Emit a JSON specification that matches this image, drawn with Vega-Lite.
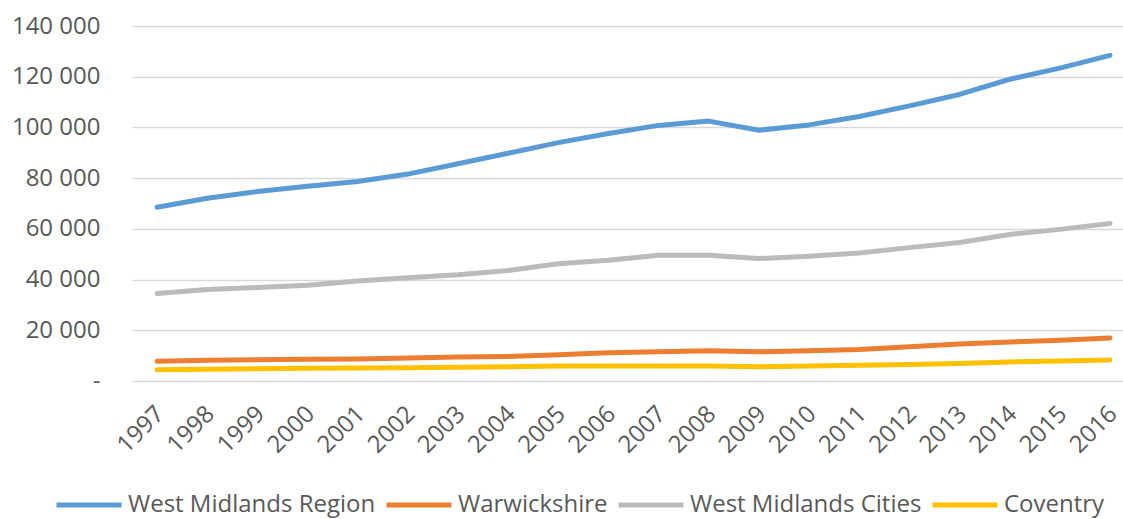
{
  "$schema": "https://vega.github.io/schema/vega-lite/v6.json",
  "autosize": {"type": "none"},
  "width": 991,
  "height": 355,
  "padding": {"left": 132, "top": 26, "right": 0, "bottom": 138},
  "background": "white",
  "config": {
    "font": "Open Sans",
    "view": {"stroke": null},
    "axis": {"labelColor": "#595959", "labelFontSize": 24, "labelFont": "Open Sans"},
    "legend": {"labelColor": "#595959", "labelFontSize": 24, "labelFont": "Open Sans", "labelLimit": 500}
  },
  "data": {
    "values": [
      {"year": 1997, "series": "West Midlands Region", "value": 68500},
      {"year": 1998, "series": "West Midlands Region", "value": 72100},
      {"year": 1999, "series": "West Midlands Region", "value": 74700},
      {"year": 2000, "series": "West Midlands Region", "value": 76800},
      {"year": 2001, "series": "West Midlands Region", "value": 78700},
      {"year": 2002, "series": "West Midlands Region", "value": 81600},
      {"year": 2003, "series": "West Midlands Region", "value": 85700},
      {"year": 2004, "series": "West Midlands Region", "value": 89800},
      {"year": 2005, "series": "West Midlands Region", "value": 94000},
      {"year": 2006, "series": "West Midlands Region", "value": 97600},
      {"year": 2007, "series": "West Midlands Region", "value": 100800},
      {"year": 2008, "series": "West Midlands Region", "value": 102500},
      {"year": 2009, "series": "West Midlands Region", "value": 98900},
      {"year": 2010, "series": "West Midlands Region", "value": 101000},
      {"year": 2011, "series": "West Midlands Region", "value": 104300},
      {"year": 2012, "series": "West Midlands Region", "value": 108500},
      {"year": 2013, "series": "West Midlands Region", "value": 113000},
      {"year": 2014, "series": "West Midlands Region", "value": 119000},
      {"year": 2015, "series": "West Midlands Region", "value": 123400},
      {"year": 2016, "series": "West Midlands Region", "value": 128400},
      {"year": 1997, "series": "Warwickshire", "value": 7750},
      {"year": 1998, "series": "Warwickshire", "value": 8150},
      {"year": 1999, "series": "Warwickshire", "value": 8400},
      {"year": 2000, "series": "Warwickshire", "value": 8550},
      {"year": 2001, "series": "Warwickshire", "value": 8700},
      {"year": 2002, "series": "Warwickshire", "value": 9100},
      {"year": 2003, "series": "Warwickshire", "value": 9450},
      {"year": 2004, "series": "Warwickshire", "value": 9700},
      {"year": 2005, "series": "Warwickshire", "value": 10350},
      {"year": 2006, "series": "Warwickshire", "value": 11150},
      {"year": 2007, "series": "Warwickshire", "value": 11500},
      {"year": 2008, "series": "Warwickshire", "value": 11950},
      {"year": 2009, "series": "Warwickshire", "value": 11550},
      {"year": 2010, "series": "Warwickshire", "value": 11950},
      {"year": 2011, "series": "Warwickshire", "value": 12450},
      {"year": 2012, "series": "Warwickshire", "value": 13500},
      {"year": 2013, "series": "Warwickshire", "value": 14600},
      {"year": 2014, "series": "Warwickshire", "value": 15400},
      {"year": 2015, "series": "Warwickshire", "value": 16050},
      {"year": 2016, "series": "Warwickshire", "value": 16950},
      {"year": 1997, "series": "West Midlands Cities", "value": 34550},
      {"year": 1998, "series": "West Midlands Cities", "value": 36100},
      {"year": 1999, "series": "West Midlands Cities", "value": 36900},
      {"year": 2000, "series": "West Midlands Cities", "value": 37800},
      {"year": 2001, "series": "West Midlands Cities", "value": 39400},
      {"year": 2002, "series": "West Midlands Cities", "value": 40700},
      {"year": 2003, "series": "West Midlands Cities", "value": 41900},
      {"year": 2004, "series": "West Midlands Cities", "value": 43600},
      {"year": 2005, "series": "West Midlands Cities", "value": 46200},
      {"year": 2006, "series": "West Midlands Cities", "value": 47600},
      {"year": 2007, "series": "West Midlands Cities", "value": 49600},
      {"year": 2008, "series": "West Midlands Cities", "value": 49600},
      {"year": 2009, "series": "West Midlands Cities", "value": 48300},
      {"year": 2010, "series": "West Midlands Cities", "value": 49200},
      {"year": 2011, "series": "West Midlands Cities", "value": 50500},
      {"year": 2012, "series": "West Midlands Cities", "value": 52600},
      {"year": 2013, "series": "West Midlands Cities", "value": 54600},
      {"year": 2014, "series": "West Midlands Cities", "value": 57800},
      {"year": 2015, "series": "West Midlands Cities", "value": 59800},
      {"year": 2016, "series": "West Midlands Cities", "value": 62100},
      {"year": 1997, "series": "Coventry", "value": 4450},
      {"year": 1998, "series": "Coventry", "value": 4600},
      {"year": 1999, "series": "Coventry", "value": 4850},
      {"year": 2000, "series": "Coventry", "value": 5000},
      {"year": 2001, "series": "Coventry", "value": 5100},
      {"year": 2002, "series": "Coventry", "value": 5250},
      {"year": 2003, "series": "Coventry", "value": 5400},
      {"year": 2004, "series": "Coventry", "value": 5650},
      {"year": 2005, "series": "Coventry", "value": 5900},
      {"year": 2006, "series": "Coventry", "value": 5950},
      {"year": 2007, "series": "Coventry", "value": 5900},
      {"year": 2008, "series": "Coventry", "value": 5900},
      {"year": 2009, "series": "Coventry", "value": 5650},
      {"year": 2010, "series": "Coventry", "value": 5900},
      {"year": 2011, "series": "Coventry", "value": 6200},
      {"year": 2012, "series": "Coventry", "value": 6550},
      {"year": 2013, "series": "Coventry", "value": 6950},
      {"year": 2014, "series": "Coventry", "value": 7500},
      {"year": 2015, "series": "Coventry", "value": 7900},
      {"year": 2016, "series": "Coventry", "value": 8250}
    ]
  },
  "mark": {"type": "line", "strokeWidth": 5, "strokeCap": "round", "strokeJoin": "round"},
  "encoding": {
    "x": {
      "field": "year",
      "type": "quantitative",
      "scale": {"domain": [1996.5, 2016.26], "nice": false, "zero": false},
      "axis": {
        "title": null,
        "values": [1997, 1998, 1999, 2000, 2001, 2002, 2003, 2004, 2005, 2006, 2007, 2008, 2009, 2010, 2011, 2012, 2013, 2014, 2015, 2016],
        "format": "d",
        "labelAngle": -45,
        "labelAlign": "right",
        "labelBaseline": "middle",
        "labelOffset": 3,
        "labelPadding": 29,
        "ticks": false,
        "domain": false,
        "grid": false,
        "labelOverlap": false
      }
    },
    "y": {
      "field": "value",
      "type": "quantitative",
      "scale": {"domain": [0, 140000], "nice": false},
      "axis": {
        "title": null,
        "values": [0, 20000, 40000, 60000, 80000, 100000, 120000, 140000],
        "labelExpr": "datum.value == 0 ? '-\u00a0\u00a0' : replace(format(datum.value, ','), ',', ' ')",
        "ticks": false,
        "domain": false,
        "grid": true,
        "gridColor": "#d9d9d9",
        "gridWidth": 1.3,
        "labelPadding": 32
      }
    },
    "color": {
      "field": "series",
      "type": "nominal",
      "scale": {
        "domain": ["West Midlands Region", "Warwickshire", "West Midlands Cities", "Coventry"],
        "range": ["#5B9BD5", "#ED7D31", "#BBBBBB", "#FFC000"]
      },
      "legend": {
        "title": null,
        "orient": "none",
        "direction": "horizontal",
        "legendX": -78,
        "legendY": 444,
        "symbolType": "stroke",
        "symbolSize": 4225,
        "symbolStrokeWidth": 5,
        "labelOffset": 4,
        "columnPadding": 0
      }
    }
  }
}
